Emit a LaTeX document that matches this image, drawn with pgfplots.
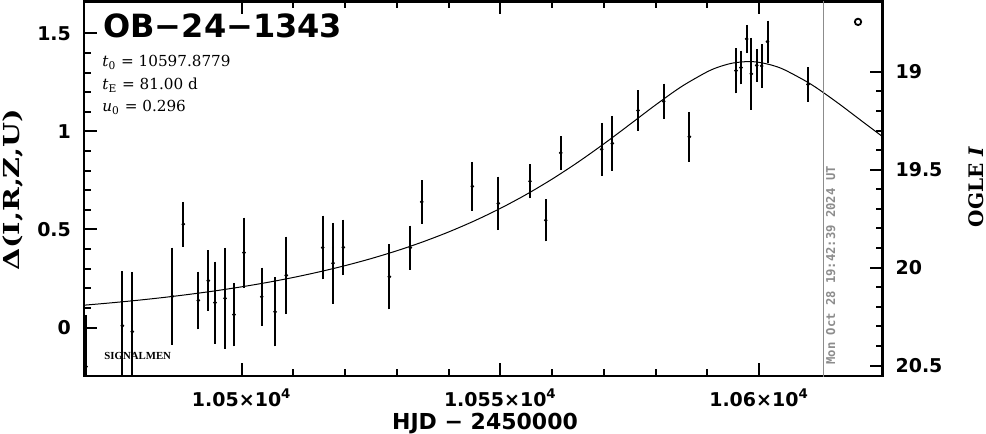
\documentclass[border=0pt]{standalone}
\usepackage{pgfplots}
\pgfplotsset{compat=1.18}
\usepackage{fontspec}
\setmainfont{DejaVu Sans}
\newfontfamily\dvserif{DejaVu Serif}
\newfontfamily\libserif{Liberation Serif}
\newfontfamily\dvmono{DejaVu Sans Mono}
\definecolor{dategray}{gray}{0.55}
\begin{document}
\begin{tikzpicture}
\useasboundingbox (-42pt,-29pt) rectangle (451pt,188pt);
\begin{axis}[
  scale only axis, width=399.25pt, height=187.25pt,
  xmin=10469.51, xmax=10623.87,
  ymin=-0.2474, ymax=1.663,
  axis line style={line width=1.2pt},
  xtick={10500,10550,10600},
  xticklabels={1.05×10\textsuperscript{4},1.055×10\textsuperscript{4},1.06×10\textsuperscript{4}},
  scaled x ticks=false,
  minor x tick num=4,
  ytick={0,0.5,1,1.5},
  yticklabels={0,0.5,1,1.5},
  minor y tick num=4,
  xtick pos=both, ytick pos=left,
  tick align=inside,
  major tick length=6.5pt, minor tick length=3.3pt,
  every tick/.style={line width=1pt, black},
  ticklabel style={font=\fontsize{9.5}{10}\selectfont\bfseries},
  xticklabel style={yshift=-3pt},
  yticklabel style={xshift=-3pt},
]
\addplot[black, line width=0.5pt, smooth] coordinates {
(10465,0.1046) (10470,0.1149) (10475,0.1264) (10480,0.1392) (10485,0.1535)
(10490,0.1696) (10495,0.1875) (10500,0.2076) (10505,0.2301) (10510,0.2554)
(10515,0.2839) (10520,0.3157) (10525,0.3514) (10530,0.3916) (10535,0.4367)
(10540,0.4874) (10545,0.5442) (10550,0.6077) (10555,0.6785) (10560,0.7570)
(10565,0.8433) (10570,0.9367) (10575,1.0354) (10580,1.1352) (10585,1.2287)
(10590,1.3046) (10592.5,1.3316) (10595,1.3493) (10597.88,1.3566) (10600,1.3526)
(10602.5,1.3380) (10605,1.3136) (10610,1.2416) (10615,1.1500) (10620,1.0505)
(10625,0.9513)};
\addplot[dategray, line width=0.6pt] coordinates {(10612.43,-0.3) (10612.43,1.7)};
\addplot[black, only marks, mark=*, mark size=0.7pt,
  error bars/.cd, y dir=both, y explicit,
  error bar style={line width=1pt},
  error mark options={line width=1pt, mark size=1.3pt}]
table[x=t, y=d, y error=e] {
t d e
10469.90 -0.200 0.250
10476.92 0.009 0.264
10478.85 -0.021 0.289
10486.58 0.159 0.235
10488.71 0.527 0.101
10491.61 0.138 0.134
10493.54 0.239 0.141
10494.84 0.127 0.196
10496.77 0.149 0.244
10498.51 0.066 0.149
10500.44 0.382 0.165
10503.87 0.157 0.135
10506.44 0.080 0.163
10508.62 0.266 0.184
10515.66 0.408 0.149
10517.65 0.328 0.193
10519.64 0.409 0.128
10528.53 0.259 0.153
10532.59 0.407 0.099
10534.80 0.641 0.098
10544.58 0.720 0.111
10549.60 0.633 0.123
10555.73 0.746 0.074
10558.77 0.547 0.095
10561.67 0.891 0.072
10569.59 0.909 0.121
10571.64 0.939 0.127
10576.61 1.107 0.089
10581.58 1.154 0.077
10586.53 0.973 0.114
10595.55 1.310 0.102
10596.52 1.326 0.073
10597.62 1.472 0.059
10598.51 1.294 0.170
10599.56 1.337 0.069
10600.52 1.334 0.097
10601.64 1.458 0.094
10609.47 1.240 0.074
};
\addplot[black, only marks, mark=o, mark size=1.6pt, line width=0.9pt] coordinates {(10619.14,1.559)};
\end{axis}
\begin{axis}[
  scale only axis, width=399.25pt, height=187.25pt,
  xmin=10469.51, xmax=10623.87,
  ymin=18.6418, ymax=20.5526, y dir=reverse,
  hide x axis, axis y line*=right,
  axis line style={line width=1.2pt},
  ytick={19,19.5,20,20.5},
  yticklabels={19,19.5,20,20.5},
  minor y tick num=4,
  tick align=inside,
  major tick length=6.5pt, minor tick length=3.3pt,
  every tick/.style={line width=1pt, black},
  ticklabel style={font=\fontsize{9.5}{10}\selectfont\bfseries},
  yticklabel style={xshift=3pt},
]
\addplot[draw=none] coordinates {(10500,19)};
\end{axis}
% texts
\node[anchor=base west, inner sep=0pt, font=\fontsize{16}{16}\selectfont\bfseries] at (9.5pt,169pt) {OB−24−1343};
\node[anchor=base west, inner sep=0pt, font=\dvserif\fontsize{7.6}{8}\selectfont] at (9pt,154.5pt) {\textit{t}\textsubscript{0} = 10597.8779};
\node[anchor=base west, inner sep=0pt, font=\dvserif\fontsize{7.6}{8}\selectfont] at (9pt,143pt) {\textit{t}\textsubscript{E} = 81.00 d};
\node[anchor=base west, inner sep=0pt, font=\dvserif\fontsize{7.6}{8}\selectfont] at (9pt,132pt) {\textit{u}\textsubscript{0} = 0.296};
\node[anchor=base west, inner sep=0pt, font=\libserif\fontsize{5.4}{6}\selectfont\bfseries] at (10pt,8.35pt) {SIGNALMEN};
\node[anchor=base west, inner sep=0pt, rotate=90, text=dategray, font=\dvmono\fontsize{6.1}{7}\selectfont\bfseries] at (375.5pt,5.5pt) {Mon Oct 28 19:42:39 2024 UT};
\node[rotate=90, inner sep=0pt, font=\dvserif\fontsize{11}{12}\selectfont\bfseries] at (-35.5pt,93pt) {\scalebox{1.3}[1]{Δ(I,R,Z,U)}};
\node[rotate=90, inner sep=0pt, font=\dvserif\fontsize{10}{10}\selectfont\bfseries] at (446pt,94.5pt) {OGLE \textit{I}};
\node[inner sep=0pt, font=\fontsize{11}{11}\selectfont\bfseries] at (200.5pt,-24pt) {HJD − 2450000};
\end{tikzpicture}
\end{document}
